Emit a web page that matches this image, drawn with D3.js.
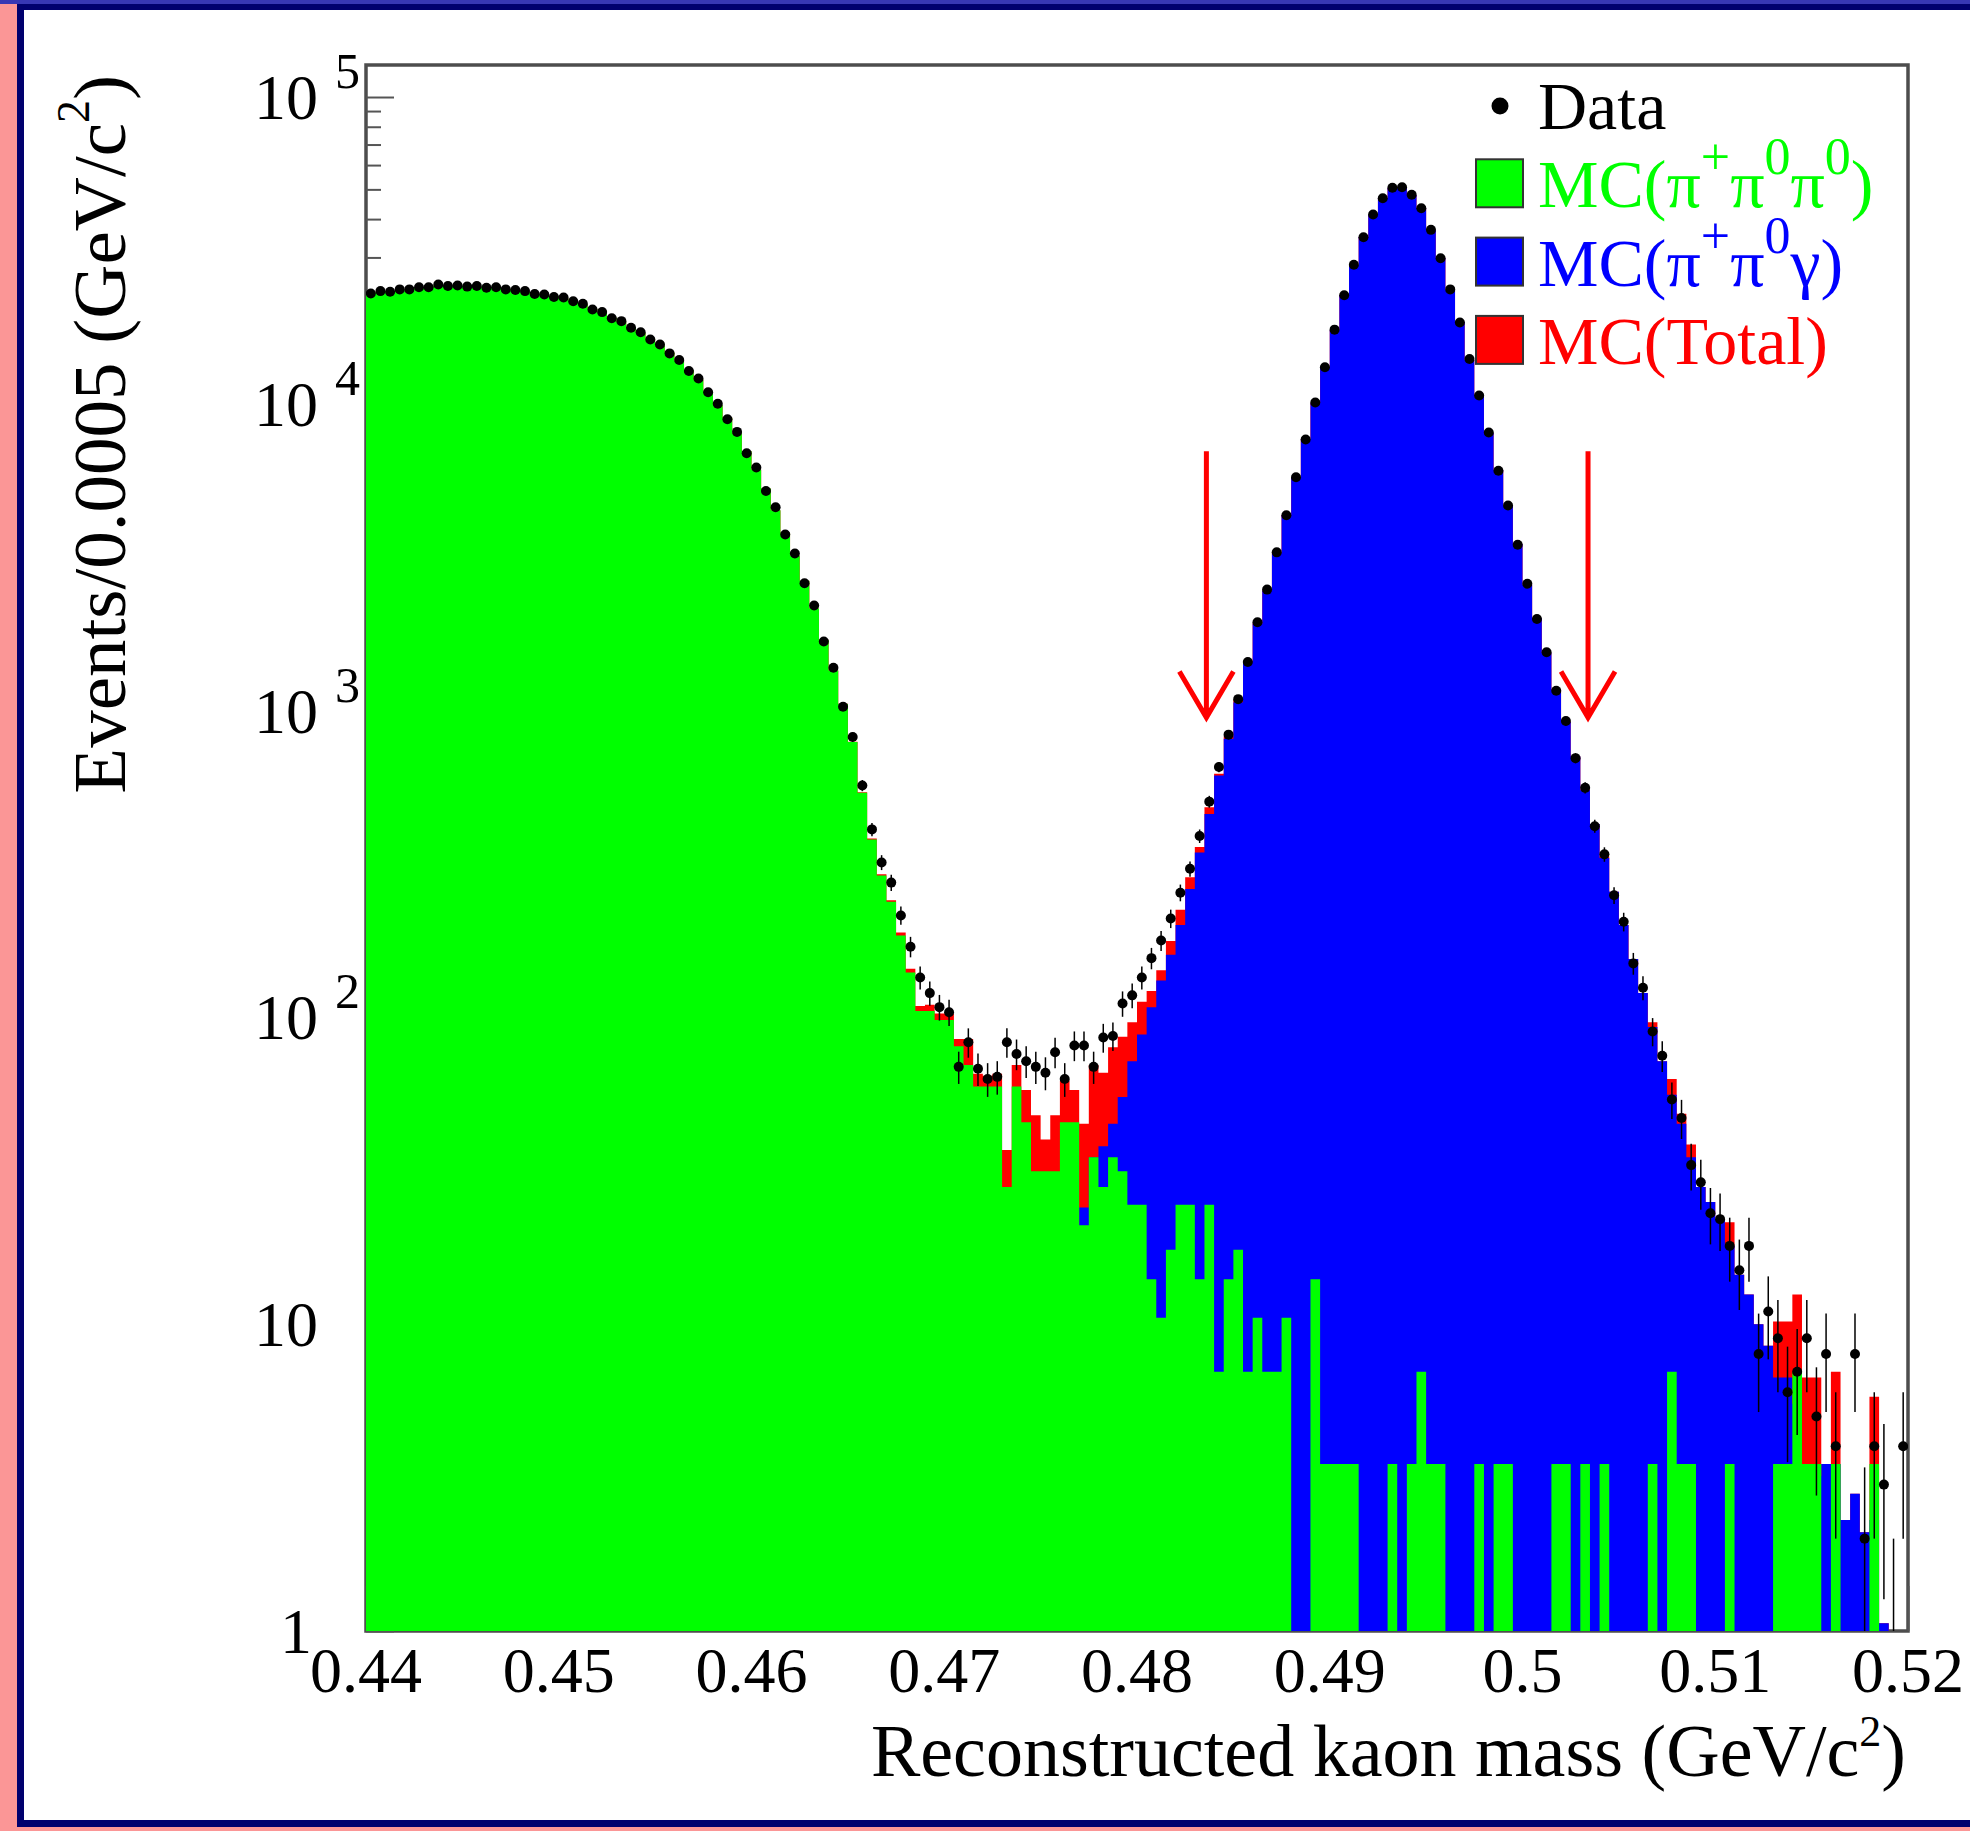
<!DOCTYPE html>
<html>
<head>
<meta charset="utf-8">
<script src="https://cdn.jsdelivr.net/npm/d3@7"></script>
<style>
  body { margin: 0; background: #fb9696; }
  svg text { font-family: "Liberation Serif", "Times New Roman", serif; }
</style>
</head>
<body>
<div id="chart"></div>
<script>
(function () {
  // histogram binning (GeV/c^2)
  const massRange = [0.44, 0.52];
  const binWidth = 0.0005;

  // MC K+ -> pi+ pi0 pi0 (green), one entry per bin
  const mcPi0Pi0 = [
    23000, 23200, 23300, 23500, 23700, 23900, 24100, 24300, 24300, 24200,
    24200, 24100, 24000, 23900, 23700, 23500, 23200, 22900, 22700, 22400,
    22100, 21700, 21100, 20400, 19800, 19100, 18500, 17800, 17000, 16300,
    15500, 14700, 13800, 12900, 12000, 11000, 9900, 9000, 8000, 7000,
    6100, 5300, 4500, 3800, 3200, 2650, 2150, 1700, 1350, 1050,
    790, 540, 380, 290, 238, 185, 140, 105, 105, 98,
    98, 80.5, 70, 59.5, 59.5, 59.5, 28, 59.5, 45.5, 31.5,
    31.5, 31.5, 45.5, 45.5, 21, 35, 28, 35, 31.5, 24.5,
    24.5, 14, 10.5, 17.5, 24.5, 24.5, 14, 24.5, 7, 14,
    17.5, 7, 10.5, 7, 7, 10.5, 0, 0, 14, 3.5,
    3.5, 3.5, 3.5, 0, 0, 0, 3.5, 0, 3.5, 7,
    3.5, 3.5, 0, 0, 0, 3.5, 0, 3.5, 3.5, 0,
    0, 0, 0, 3.5, 3.5, 0, 3.5, 0, 3.5, 0,
    0, 0, 0, 3.5, 0, 7, 3.5, 3.5, 0, 0,
    0, 3.5, 0, 0, 0, 0, 3.5, 3.5, 7, 3.5,
    3.5, 0, 3.5, 0, 0, 0, 3.5, 0, 0, 0
  ];

  // MC K+ -> pi+ pi0 gamma (blue)
  const mcPi0Gamma = [
    0, 0, 0, 0, 0, 0, 0, 0, 0, 0,
    0, 0, 0, 0, 0, 0, 0, 0, 0, 0,
    0, 0, 0, 0, 0, 0, 0, 0, 0, 0,
    0, 0, 0, 0, 0, 0, 0, 0, 0, 0,
    0, 0, 0, 0, 0, 1, 1, 1, 2, 2,
    2, 2, 3, 3, 3, 4, 4, 4, 5, 5,
    5, 4.5, 15, 6, 5, 6, 9, 10.5, 12.5, 16.5,
    8.5, 16.5, 16.5, 12.5, 24, 35, 38, 45, 55, 72,
    88, 108, 132, 160, 200, 262, 345, 460, 615, 810,
    1065, 1445, 1920, 2460, 3260, 4330, 5730, 7680, 10050, 13200,
    17400, 22650, 28350, 35000, 41300, 46900, 50500, 50900, 47900, 43500,
    36800, 29900, 23500, 18500, 13900, 10700, 8030, 6080, 4640, 3490,
    2570, 2000, 1540, 1170, 918, 708, 550, 427, 331, 257,
    200, 155, 120, 93, 72, 56, 45, 35, 28, 25,
    22, 18, 14.5, 12.5, 10, 8.5, 6.7, 6.7, 5.5, 3.2,
    3.2, 3.5, 3.5, 2.3, 2.8, 2.1, 2.3, 1.06, 0, 0
  ];

  // data counts per bin
  const dataCounts = [
    22900, 23300, 23200, 23600, 23600, 24000, 24000, 24500, 24200, 24300,
    24100, 24200, 23900, 24000, 23600, 23500, 23300, 22800, 22700, 22300,
    22200, 21600, 21200, 20300, 19900, 19000, 18600, 17700, 17100, 16200,
    15600, 14600, 13900, 12800, 12100, 10900, 10000, 8900, 8100, 6900,
    6200, 5200, 4600, 3750, 3250, 2600, 2200, 1680, 1380, 1030,
    820, 570, 410, 320, 275, 215, 170, 135, 120, 108,
    104, 69, 83, 68, 63, 64, 83, 76, 72, 69,
    66, 77, 63, 81, 81, 69, 86, 87, 111, 118,
    135, 156, 178, 210, 255, 305, 390, 505, 655, 835,
    1090, 1440, 1940, 2480, 3280, 4330, 5760, 7650, 10100, 13150,
    17450, 22600, 28400, 34900, 41400, 46800, 50600, 50800, 48000, 43400,
    36900, 29800, 23600, 18400, 14000, 10650, 8060, 6050, 4660, 3470,
    2590, 1990, 1550, 1160, 925, 700, 560, 420, 340, 250,
    205, 150, 125, 90, 75, 54, 47, 33, 29, 23,
    22, 18, 15, 18, 8, 11, 9, 6, 7, 9,
    5, 8, 4, 0, 8, 2, 4, 3, 1, 4
  ];

  const xTickValues = [0.44, 0.45, 0.46, 0.47, 0.48, 0.49, 0.50, 0.51, 0.52];
  const xTickLabels = ["0.44", "0.45", "0.46", "0.47", "0.48", "0.49", "0.5", "0.51", "0.52"];
  const yDecades = [1, 10, 100, 1000, 10000, 100000];
  const yLabelBase = ["1", "10", "10", "10", "10", "10"];
  const yLabelExp = ["", "", "2", "3", "4", "5"];
  const yRange = [1, 1.2716e5];

  // signal window cuts (red arrows)
  const cutMass = [0.4836, 0.5034];
  const cutArrowFrom = 7000;
  const cutArrowTo = 950;

  const legendItems = [
    { kind: "marker", color: "#000000", parts: [{ t: "Data" }] },
    { kind: "box", color: "#00ff00", parts: [{ t: "MC(π" }, { t: "+", sup: true }, { t: "π" }, { t: "0", sup: true }, { t: "π" }, { t: "0", sup: true }, { t: ")" }] },
    { kind: "box", color: "#0000ff", parts: [{ t: "MC(π" }, { t: "+", sup: true }, { t: "π" }, { t: "0", sup: true }, { t: "γ)" }] },
    { kind: "box", color: "#ff0000", parts: [{ t: "MC(Total)" }] }
  ];

  const W = 1970, H = 1831;
  const frame = { left: 366, right: 1908, top: 65, bottom: 1631 };

  const svg = d3.select("#chart").append("svg")
    .attr("width", W)
    .attr("height", H);

  // slide background + border
  svg.append("rect").attr("width", W).attr("height", H).attr("fill", "#fb9696");
  svg.append("rect").attr("x", 0).attr("y", 0).attr("width", W).attr("height", 4).attr("fill", "#3737b4");
  svg.append("rect").attr("x", 17).attr("y", 4).attr("width", W - 17).attr("height", 1823).attr("fill", "#00006e");
  svg.append("rect").attr("x", 24).attr("y", 10).attr("width", W - 24).attr("height", 1810).attr("fill", "#ffffff");

  const x = d3.scaleLinear().domain(massRange).range([frame.left, frame.right]);
  const y = d3.scaleLog().domain(yRange).range([frame.bottom, frame.top]);
  const yc = v => y(Math.max(v, yRange[0]));

  // frame and ticks go under the histograms (like the ROOT canvas)
  svg.append("rect")
    .attr("x", frame.left).attr("y", frame.top)
    .attr("width", frame.right - frame.left).attr("height", frame.bottom - frame.top)
    .attr("fill", "none").attr("stroke", "#4d4d4d").attr("stroke-width", 3.5);

  const minorVals = [];
  yDecades.forEach(d => {
    for (let m = 2; m <= 9; m++) if (m * d <= yRange[1]) minorVals.push(m * d);
  });

  const yMajor = svg.append("g")
    .attr("transform", "translate(" + frame.left + ",0)")
    .call(d3.axisRight(y).tickValues(yDecades).tickSize(28).tickFormat(""));
  const yMinor = svg.append("g")
    .attr("transform", "translate(" + frame.left + ",0)")
    .call(d3.axisRight(y).tickValues(minorVals).tickSize(15).tickFormat(""));
  const xMajor = svg.append("g")
    .attr("transform", "translate(0," + frame.bottom + ")")
    .call(d3.axisTop(x).tickValues(xTickValues).tickSize(45).tickFormat(""));
  [yMajor, yMinor, xMajor].forEach(g => {
    g.select(".domain").remove();
    g.selectAll("line").attr("stroke", "#555").attr("stroke-width", 2);
  });

  // histograms: total (red) behind, then blue, then green
  const mcTotal = mcPi0Pi0.map((g, i) => g + mcPi0Gamma[i]);
  const stepArea = d3.area()
    .curve(d3.curveStepAfter)
    .x((d, i) => x(massRange[0] + i * binWidth))
    .y0(y(yRange[0]))
    .y1(d => yc(d));
  const closeHist = vals => vals.concat([vals[vals.length - 1]]);

  svg.append("path").datum(closeHist(mcTotal)).attr("d", stepArea).attr("fill", "#ff0000");
  svg.append("path").datum(closeHist(mcPi0Gamma)).attr("d", stepArea).attr("fill", "#0000ff");
  svg.append("path").datum(closeHist(mcPi0Pi0)).attr("d", stepArea).attr("fill", "#00ff00");

  // data points with sqrt(N) error bars
  svg.append("clipPath").attr("id", "plotClip")
    .append("rect")
    .attr("x", frame.left).attr("y", frame.top)
    .attr("width", frame.right - frame.left).attr("height", frame.bottom - frame.top);

  const points = dataCounts
    .map((n, i) => ({ n: n, m: massRange[0] + (i + 0.5) * binWidth }))
    .filter(d => d.n > 0);

  const dataG = svg.append("g").attr("clip-path", "url(#plotClip)");
  dataG.selectAll("line.err")
    .data(points)
    .join("line")
    .attr("class", "err")
    .attr("x1", d => x(d.m)).attr("x2", d => x(d.m))
    .attr("y1", d => yc(d.n - Math.sqrt(d.n)))
    .attr("y2", d => yc(d.n + Math.sqrt(d.n)))
    .attr("stroke", "#000").attr("stroke-width", 1.5);
  dataG.selectAll("circle.pt")
    .data(points.filter(d => d.n > yRange[0]))
    .join("circle")
    .attr("class", "pt")
    .attr("cx", d => x(d.m))
    .attr("cy", d => y(d.n))
    .attr("r", 5)
    .attr("fill", "#000");

  // cut arrows
  cutMass.forEach(m => {
    const ax = x(m), y0 = y(cutArrowFrom), y1 = y(cutArrowTo);
    svg.append("path")
      .attr("d", "M" + ax + "," + y0 + "L" + ax + "," + y1 +
        "M" + (ax - 27) + "," + (y1 - 46) + "L" + ax + "," + y1 + "L" + (ax + 27) + "," + (y1 - 46))
      .attr("fill", "none")
      .attr("stroke", "#ff0000")
      .attr("stroke-width", 5);
  });

  function richText(sel, parts, supSize, supShift) {
    parts.forEach((p, i) => {
      const prevSup = i > 0 && parts[i - 1].sup;
      const ts = sel.append("tspan").text(p.t);
      if (p.sup) ts.attr("font-size", supSize).attr("dy", -supShift);
      else if (prevSup) ts.attr("dy", supShift);
    });
  }

  // legend
  const legend = svg.append("g");
  legendItems.forEach((it, i) => {
    const base = 129 + i * 78.3;
    if (it.kind === "marker") {
      legend.append("circle").attr("cx", 1500).attr("cy", base - 23).attr("r", 8.5).attr("fill", it.color);
    } else {
      legend.append("rect")
        .attr("x", 1476).attr("y", base - 48)
        .attr("width", 47).attr("height", 48)
        .attr("fill", it.color)
        .attr("stroke", "#333").attr("stroke-width", 2);
    }
    const t = legend.append("text")
      .attr("x", 1538).attr("y", base)
      .attr("font-size", 68)
      .attr("fill", it.color);
    richText(t, it.parts, 52, 33);
  });

  // x tick labels
  svg.selectAll("text.xlab")
    .data(xTickValues)
    .join("text")
    .attr("class", "xlab")
    .attr("x", d => x(d))
    .attr("y", 1692)
    .attr("text-anchor", "middle")
    .attr("font-size", 64)
    .text((d, i) => xTickLabels[i]);

  // y tick labels (10 with exponent)
  yDecades.forEach((d, i) => {
    const ty = y(d);
    svg.append("text")
      .attr("x", d === 1 ? 312 : 318)
      .attr("y", ty + 22)
      .attr("text-anchor", "end")
      .attr("font-size", 64)
      .text(yLabelBase[i]);
    if (yLabelExp[i]) {
      svg.append("text")
        .attr("x", 335)
        .attr("y", ty - 9)
        .attr("font-size", 50)
        .text(yLabelExp[i]);
    }
  });

  // axis titles
  const xt = svg.append("text")
    .attr("x", 1906).attr("y", 1776)
    .attr("text-anchor", "end")
    .attr("font-size", 74);
  richText(xt, [{ t: "Reconstructed kaon mass (GeV/c" }, { t: "2", sup: true }, { t: ")" }], 44, 30);

  const yt = svg.append("text")
    .attr("transform", "translate(125,75) rotate(-90)")
    .attr("text-anchor", "end")
    .attr("font-size", 75);
  richText(yt, [{ t: "Events/0.0005 (GeV/c" }, { t: "2", sup: true }, { t: ")" }], 46, 36);
})();
</script>
</body>
</html>
